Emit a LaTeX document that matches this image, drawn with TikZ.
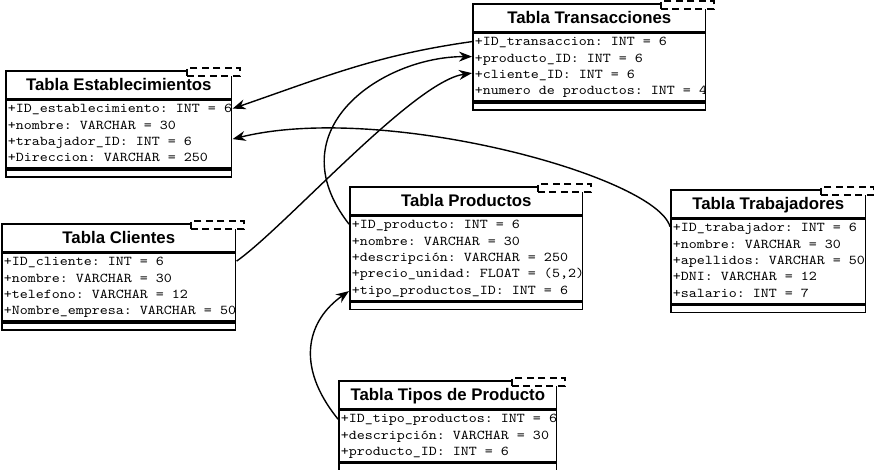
\documentclass[tikz,border=0pt]{standalone}
\usepackage{fontspec}
\newfontfamily\headfont{Liberation Sans}
\newfontfamily\rowfont{lmmono10-regular}[Extension=.otf, FakeStretch=1.13]
\usepackage{tikz}
\usetikzlibrary{positioning,arrows.meta}
\newcommand{\filas}[1]{\spaceskip=8pt\relax\xspaceskip=8pt\relax\begin{tabular}{@{\hspace{2pt}}l@{}}#1\end{tabular}}

\begin{document}
\begin{tikzpicture}[x=1pt, y=1pt,
    tableHead/.style={draw, line width=1.6pt, minimum width=#1, minimum height=27.5pt, inner sep=0pt, text height=12pt, text depth=0pt, font=\headfont\bfseries\fontsize{16.8}{18}\selectfont},
    tableBody/.style={draw, line width=1.6pt, text width=#1, inner xsep=0pt, inner ysep=1.5pt, align=left, font=\rowfont\fontsize{13.5}{16.3}\selectfont},
    tableFoot/.style={draw, line width=1.6pt, minimum width=#1, minimum height=7.5pt, inner sep=0pt},
    tagBox/.style={draw, line width=1.6pt, dash pattern=on 7pt off 4.5pt, fill=white, minimum width=53pt, minimum height=8pt, inner sep=0pt},
    relArrow/.style={-{Stealth[length=13pt, width=10pt]}, line width=1.4pt}
]
    \useasboundingbox (0,0) rectangle (874,-469);

    % Transacciones
    \begin{scope}
    \clip (471,-2) rectangle (705.8,-125);
    \node[tableHead=233pt, anchor=north west] (transT) at (472,-3) {Tabla Transacciones};
    \node[tableBody=233pt, below=0pt of transT] (transB) {\filas{+ID\_transaccion: INT = 6\\ +producto\_ID: INT = 6\\ +cliente\_ID: INT = 6\\ +numero de productos: INT = 4}};
    \node[tableFoot=233pt, below=0pt of transB] (transF) {};
    \end{scope}

    % Establecimientos
    \begin{scope}
    \clip (4,-69) rectangle (231.8,-195);
    \node[tableHead=226pt, anchor=north west] (estT) at (5,-70) {Tabla Establecimientos};
    \node[tableBody=226pt, below=0pt of estT] (estB) {\filas{+ID\_establecimiento: INT = 6\\ +nombre: VARCHAR = 30\\ +trabajador\_ID: INT = 6\\ +Direccion: VARCHAR = 250}};
    \node[tableFoot=226pt, below=0pt of estB] (estF) {};
    \end{scope}

    % Clientes
    \begin{scope}
    \clip (0,-222) rectangle (235.8,-345);
    \node[tableHead=234pt, anchor=north west] (cliT) at (1,-223) {Tabla Clientes};
    \node[tableBody=234pt, below=0pt of cliT] (cliB) {\filas{+ID\_cliente: INT = 6\\ +nombre: VARCHAR = 30\\ +telefono: VARCHAR = 12\\ +Nombre\_empresa: VARCHAR = 50}};
    \node[tableFoot=234pt, below=0pt of cliB] (cliF) {};
    \end{scope}

    % Productos
    \begin{scope}
    \clip (348,-185) rectangle (582.8,-325);
    \node[tableHead=233pt, anchor=north west] (prodT) at (349,-186) {Tabla Productos};
    \node[tableBody=233pt, below=0pt of prodT] (prodB) {\filas{+ID\_producto: INT = 6\\ +nombre: VARCHAR = 30\\ +descripción: VARCHAR = 250\\ +precio\_unidad: FLOAT = (5,2)\\ +tipo\_productos\_ID: INT = 6}};
    \node[tableFoot=233pt, below=0pt of prodB] (prodF) {};
    \end{scope}

    % Trabajadores
    \begin{scope}
    \clip (669,-188) rectangle (865.8,-325);
    \node[tableHead=195pt, anchor=north west] (trabT) at (670,-189) {Tabla Trabajadores};
    \node[tableBody=195pt, below=0pt of trabT] (trabB) {\filas{+ID\_trabajador: INT = 6\\ +nombre: VARCHAR = 30\\ +apellidos: VARCHAR = 50\\ +DNI: VARCHAR = 12\\ +salario: INT = 7}};
    \node[tableFoot=195pt, below=0pt of trabB] (trabF) {};
    \end{scope}

    % Tipos de Producto
    \begin{scope}
    \clip (337,-379) rectangle (556.8,-469);
    \node[tableHead=218pt, anchor=north west] (tiposT) at (338,-380) {Tabla Tipos de Producto};
    \node[tableBody=218pt, below=0pt of tiposT] (tiposB) {\filas{+ID\_tipo\_productos: INT = 6\\ +descripción: VARCHAR = 30\\ +producto\_ID: INT = 6}};
    \node[tableFoot=218pt, below=0pt of tiposB] (tiposF) {};
    \end{scope}

    % etiquetas punteadas
    \node[tagBox, anchor=north east] (transTag) at ([xshift=8pt, yshift=3pt]transT.north east) {};
    \node[tagBox, anchor=north east] (estTag) at ([xshift=8pt, yshift=3pt]estT.north east) {};
    \node[tagBox, anchor=north east] (cliTag) at ([xshift=8pt, yshift=3pt]cliT.north east) {};
    \node[tagBox, anchor=north east] (prodTag) at ([xshift=8pt, yshift=3pt]prodT.north east) {};
    \node[tagBox, anchor=north east] (trabTag) at ([xshift=8pt, yshift=3pt]trabT.north east) {};
    \node[tagBox, anchor=north east] (tiposTag) at ([xshift=8pt, yshift=3pt]tiposT.north east) {};

    % relaciones
    \draw[relArrow] ([yshift=-9.5pt]transB.north west) to[out=188, in=19] ([yshift=-9.5pt]estB.north east);
    \draw[relArrow] ([yshift=-8.5pt]trabB.north west) to[out=106, in=14, out distance=53pt, in distance=154pt] ([yshift=-40pt]estB.north east);
    \draw[relArrow] ([yshift=-9pt]cliB.north east) to[out=35, in=188, looseness=0.5] ([yshift=-41pt]transB.north west);
    \draw[relArrow] ([yshift=-9pt]prodB.north west) to[out=128, in=180, out distance=120pt, in distance=90pt] ([yshift=-24.5pt]transB.north west);
    \draw[relArrow] ([yshift=-10pt]tiposB.north west) to[out=129, in=215, out distance=70pt, in distance=50pt] ([yshift=-76pt]prodB.north west);
\end{tikzpicture}
\end{document}
